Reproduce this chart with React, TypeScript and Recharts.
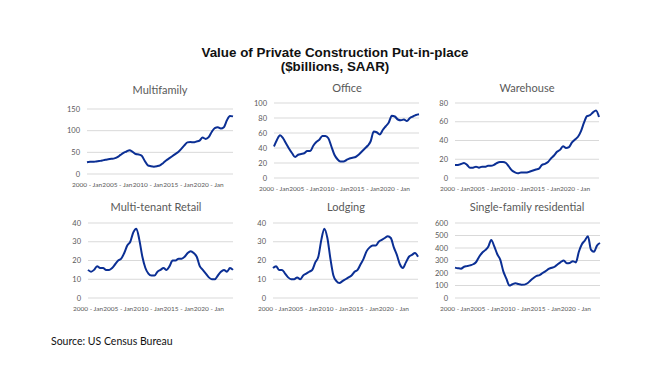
import { LineChart, Line, CartesianGrid, XAxis, YAxis } from 'recharts';

// half-year points, Jan 2000 .. Jan 2024
const periods = [
  2000, 2000.5, 2001, 2001.5, 2002, 2002.5, 2003, 2003.5, 2004, 2004.5,
  2005, 2005.5, 2006, 2006.5, 2007, 2007.5, 2008, 2008.5, 2009, 2009.5,
  2010, 2010.5, 2011, 2011.5, 2012, 2012.5, 2013, 2013.5, 2014, 2014.5,
  2015, 2015.5, 2016, 2016.5, 2017, 2017.5, 2018, 2018.5, 2019, 2019.5,
  2020, 2020.5, 2021, 2021.5, 2022, 2022.5, 2023, 2023.5, 2024,
];

const tickYears = [2000, 2005, 2010, 2015, 2020];
const tickLabels = ['2000 - Jan', '2005 - Jan', '2010 - Jan', '2015 - Jan', '2020 - Jan'];

const multifamily = [
  27, 28, 28, 29, 30, 31, 33, 34, 35, 36,
  39, 44, 49, 52, 55, 51, 46, 45, 42, 30,
  20, 18, 17, 18, 20, 25, 31, 36, 41, 46,
  51, 58, 66, 73, 74, 73, 75, 77, 84, 81,
  85, 97, 106, 108, 105, 108, 124, 134, 133,
];

const office = [
  42, 51, 57, 53, 46, 39, 33, 28, 31, 32,
  33, 36, 36, 43, 48, 51, 56, 56, 53, 42,
  31, 25, 22, 22, 24, 26, 27, 28, 31, 35,
  39, 43, 49, 62, 61, 58, 64, 69, 74, 83,
  82, 78, 77, 78, 76, 80, 82, 84, 85,
];

const warehouse = [
  14, 14, 15, 16, 14, 11, 11, 12, 11, 12,
  12, 13, 13, 14, 16, 17, 17, 16, 12, 8,
  6, 5, 6, 6, 6, 7, 8, 9, 10, 14,
  15, 17, 21, 24, 28, 30, 34, 32, 33, 38,
  41, 44, 50, 59, 66, 67, 70, 72, 65,
];

const retail = [
  15, 14, 15, 17, 16, 16, 15, 15, 16, 18,
  20, 21, 24, 28, 30, 35, 37, 31, 22, 16,
  13, 12, 12, 14, 15, 16, 15, 17, 20, 20,
  21, 21, 22, 24, 25, 24, 22, 17, 15, 13,
  11, 10, 10, 12, 14, 15, 14, 16, 15,
];

const lodging = [
  16, 17, 15, 15, 13, 11, 10, 10, 11, 10,
  12, 13, 14, 15, 19, 22, 31, 37, 32, 21,
  12, 9, 8, 9, 10, 11, 12, 14, 15, 18,
  21, 25, 27, 28, 28, 30, 31, 32, 33, 32,
  27, 23, 18, 16, 19, 22, 23, 24, 22,
];

const singleFamily = [
  243, 238, 235, 250, 255, 261, 270, 288, 330, 362,
  383, 410, 465, 413, 350, 305, 213, 155, 100, 110,
  118, 112, 106, 107, 118, 140, 160, 177, 183, 200,
  215, 233, 242, 250, 270, 287, 300, 278, 280, 295,
  285, 370, 430, 460, 495, 387, 370, 419, 440,
];

const LINE = '#0b2f94';
const GREY = '#595959';

const panels = [
  { title: 'Multifamily', values: multifamily, yTicks: [0, 50, 100, 150], left: 87, top: 109, width: 146, height: 65, titleX: 160, titleY: 90 },
  { title: 'Office', values: office, yTicks: [0, 20, 40, 60, 80, 100], left: 274, top: 103, width: 145, height: 75, titleX: 347, titleY: 88 },
  { title: 'Warehouse', values: warehouse, yTicks: [0, 20, 40, 60, 80], left: 455, top: 103, width: 144, height: 75, titleX: 527, titleY: 88 },
  { title: 'Multi-tenant Retail', values: retail, yTicks: [0, 10, 20, 30, 40], left: 88, top: 223, width: 145, height: 75, titleX: 156, titleY: 207 },
  { title: 'Lodging', values: lodging, yTicks: [0, 10, 20, 30, 40], left: 273, top: 223, width: 145, height: 75, titleX: 346, titleY: 207 },
  { title: 'Single-family residential', values: singleFamily, yTicks: [0, 100, 200, 300, 400, 500, 600], left: 455, top: 223, width: 145, height: 75, titleX: 527, titleY: 207 },
];

function YearTick(props: any) {
  const { x, y, payload } = props;
  const label = tickLabels[tickYears.indexOf(payload.value)];
  return (
    <text x={x} y={y} dy="0.71em" textAnchor="middle" fontSize={6.5} fontFamily="Lato" fill={GREY}>
      {label}
    </text>
  );
}

function Panel({ title, values, yTicks, left, top, width, height, titleX, titleY }: any) {
  const rows = periods.map((p, i) => ({ p, v: values[i] }));
  return (
    <>
      <div
        style={{
          position: 'absolute',
          left: titleX - 80,
          width: 160,
          top: titleY - 8,
          lineHeight: '16px',
          textAlign: 'center',
          fontFamily: 'Lato',
          fontSize: 11,
          color: GREY,
        }}
      >
        {title}
      </div>
      <div style={{ position: 'absolute', left: left - 40, top: top - 8 }}>
        <LineChart width={width + 48} height={height + 30} data={rows} margin={{ top: 8, right: 8, left: 0, bottom: 0 }}>
          <CartesianGrid stroke="#d9d9d9" vertical={false} />
          <XAxis
            dataKey="p"
            type="number"
            domain={[2000, 2024]}
            ticks={tickYears}
            interval={0}
            axisLine={false}
            tickLine={false}
            tickSize={6}
            height={22}
            tick={<YearTick />}
          />
          <YAxis
            width={40}
            domain={[0, yTicks[yTicks.length - 1]]}
            ticks={yTicks}
            interval={0}
            axisLine={false}
            tickLine={false}
            tickSize={5}
            tick={{ fill: GREY, fontSize: 7.5, fontFamily: 'Lato' }}
          />
          <Line dataKey="v" type="monotone" stroke={LINE} strokeWidth={2} dot={false} isAnimationActive={false} />
        </LineChart>
      </div>
    </>
  );
}

const titleLine = {
  height: 14,
  transform: 'scaleY(0.92)',
};

export default function App() {
  return (
    <div style={{ position: 'absolute', left: 0, top: 0, width: 650, height: 389, background: '#fff', overflow: 'hidden' }}>
      <div
        style={{
          position: 'absolute',
          left: 0,
          width: 670,
          top: 46,
          textAlign: 'center',
          fontFamily: '"Liberation Sans", Arial, sans-serif',
          fontWeight: 'bold',
          fontSize: 13.4,
          lineHeight: '14px',
          color: '#111',
        }}
      >
        <div style={titleLine}>Value of Private Construction Put-in-place</div>
        <div style={titleLine}>($billions, SAAR)</div>
      </div>
      {panels.map((p) => (
        <Panel key={p.title} {...p} />
      ))}
      <div
        style={{
          position: 'absolute',
          left: 51,
          top: 334,
          fontFamily: 'Lato',
          fontSize: 10.5,
          lineHeight: '14px',
          color: '#111',
        }}
      >
        Source: US Census Bureau
      </div>
    </div>
  );
}
